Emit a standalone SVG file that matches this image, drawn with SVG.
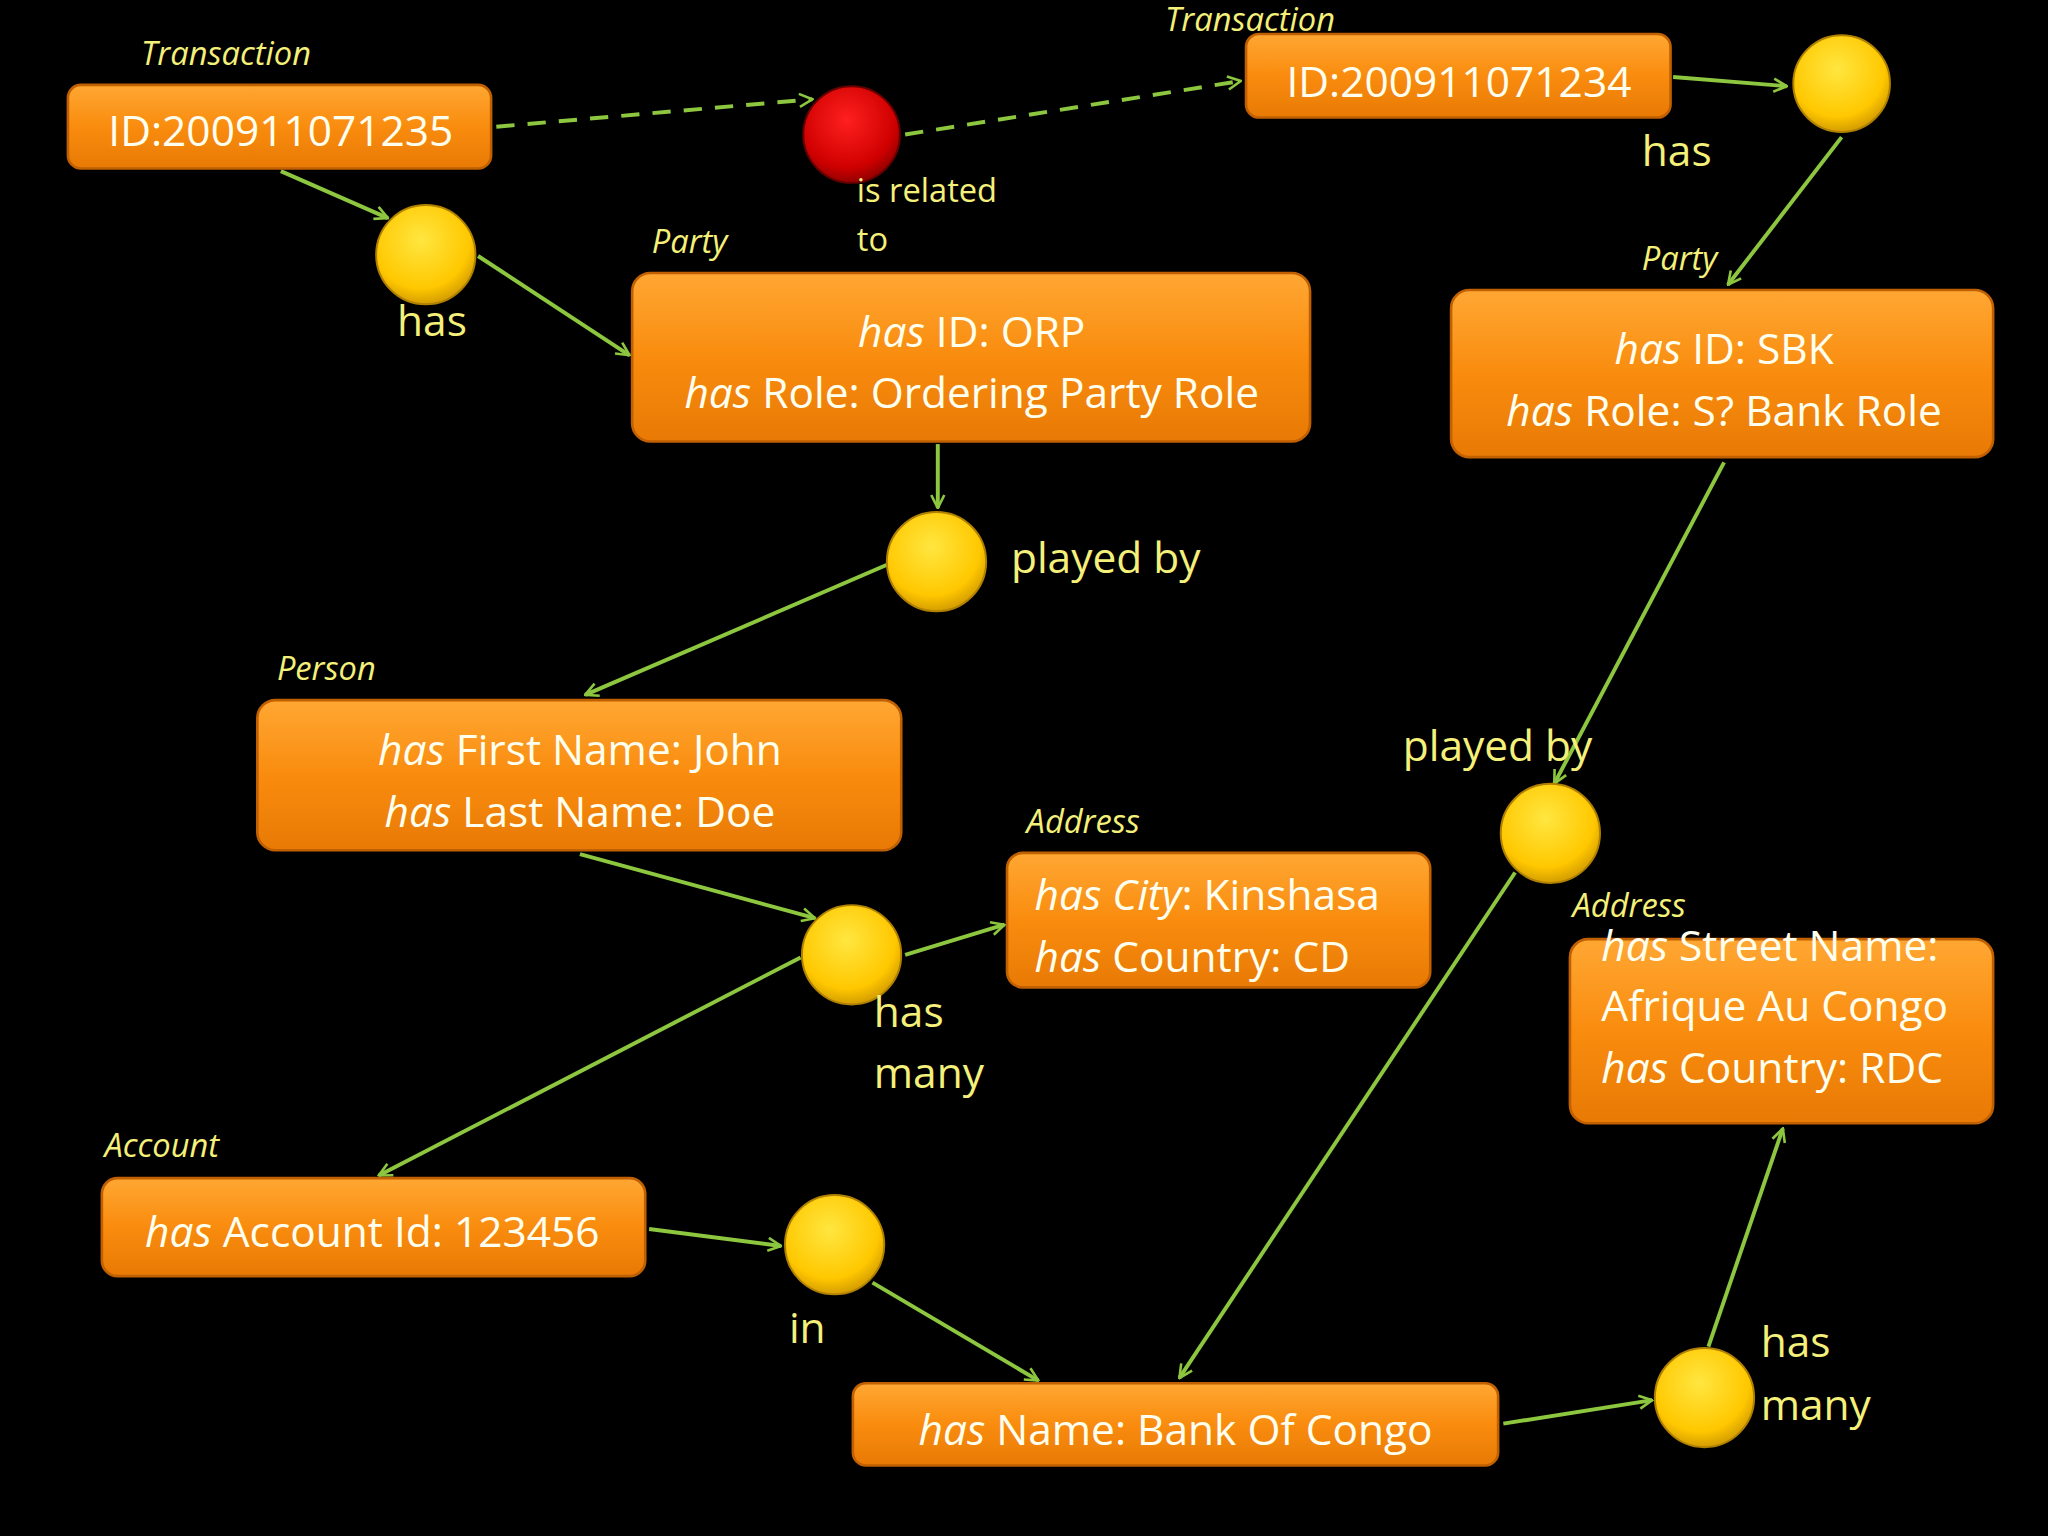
<svg xmlns="http://www.w3.org/2000/svg" width="2048" height="1536" viewBox="0 0 2048 1536">
<defs>
<linearGradient id="og" x1="0" y1="0" x2="0" y2="1"><stop offset="0" stop-color="#FFA733"/><stop offset="0.5" stop-color="#F98C0E"/><stop offset="1" stop-color="#E87A05"/></linearGradient>
<radialGradient id="yg" cx="0.45" cy="0.35" r="0.7"><stop offset="0" stop-color="#FFE640"/><stop offset="0.7" stop-color="#FFC800"/><stop offset="1" stop-color="#C89000"/></radialGradient>
<radialGradient id="rg" cx="0.45" cy="0.35" r="0.7"><stop offset="0" stop-color="#FF2020"/><stop offset="0.7" stop-color="#D00000"/><stop offset="1" stop-color="#800000"/></radialGradient>
<marker id="ar" viewBox="0 0 12 12" refX="11" refY="6" markerWidth="12" markerHeight="12" markerUnits="userSpaceOnUse" orient="auto"><path d="M1,1 L11,6 L1,11" fill="none" stroke="#8DC63F" stroke-width="2"/></marker>
<style>
.box{fill:url(#og);stroke:#C06000;stroke-width:2}
.yc{fill:url(#yg);stroke:#B08000;stroke-width:1.5}
.t{font-family:"Open Sans","Liberation Sans",sans-serif;font-size:32.5px;fill:#FFFFF0}
.c{text-anchor:middle}
.lbl{font-family:"Open Sans","Liberation Sans",sans-serif;font-size:25px;fill:#F4F07A;font-style:italic}
.rl{font-family:"Open Sans","Liberation Sans",sans-serif;font-size:32.5px;fill:#F4F07A}
.sm{font-size:25px}
.ln{stroke:#8DC63F;stroke-width:3;fill:none;marker-end:url(#ar)}
.d{stroke-dasharray:14,10}
</style>
</defs>
<rect width="2048" height="1536" fill="#000"/>
<g transform="scale(1.30612)">
<g id="connectors">
<line class="ln d" x1="380" y1="97" x2="622" y2="76"/>
<line class="ln d" x1="693" y1="103" x2="950" y2="62"/>
<line class="ln" x1="1281" y1="59" x2="1368" y2="66"/>
<line class="ln" x1="215" y1="131" x2="297" y2="167"/>
<line class="ln" x1="366" y1="196" x2="482" y2="272"/>
<line class="ln" x1="1410" y1="105" x2="1323" y2="218"/>
<line class="ln" x1="718" y1="340" x2="718" y2="389"/>
<line class="ln" x1="680" y1="432" x2="448" y2="532"/>
<line class="ln" x1="444" y1="654" x2="624" y2="703"/>
<line class="ln" x1="693" y1="731" x2="769" y2="708"/>
<line class="ln" x1="613" y1="733" x2="290" y2="900"/>
<line class="ln" x1="1320" y1="354" x2="1190" y2="600"/>
<line class="ln" x1="497" y1="941" x2="598" y2="954"/>
<line class="ln" x1="668" y1="982" x2="795" y2="1057"/>
<line class="ln" x1="1160" y1="668" x2="903" y2="1055"/>
<line class="ln" x1="1151" y1="1090" x2="1265" y2="1072"/>
<line class="ln" x1="1308" y1="1031" x2="1365" y2="864"/>
</g>
<g id="tx1"><text class="lbl" x="108" y="50">Transaction</text><rect class="box" x="52" y="65" width="324" height="64" rx="10"/><text class="t c" x="215" y="112">ID:200911071235</text></g>
<g id="tx2"><text class="lbl" x="892" y="24">Transaction</text><rect class="box" x="954" y="26" width="325" height="64" rx="10"/><text class="t c" x="1117" y="74">ID:200911071234</text></g>
<g id="rel"><circle cx="652" cy="103" r="37" fill="url(#rg)" stroke="#600" stroke-width="1.5"/><text class="rl sm" x="656" y="155">is related</text><text class="rl sm" x="656" y="192">to</text></g>
<g id="hasA"><circle class="yc" cx="326" cy="195" r="38"/><text class="rl" x="304" y="257">has</text></g>
<g id="hasB"><circle class="yc" cx="1410" cy="64" r="37"/><text class="rl" x="1257" y="127">has</text></g>
<g id="party1"><text class="lbl" x="499" y="194">Party</text><rect class="box" x="484" y="209" width="519" height="129" rx="14"/><text class="t c" x="744" y="266"><tspan font-style="italic">has</tspan> ID: ORP</text><text class="t c" x="744" y="312"><tspan font-style="italic">has</tspan> Role: Ordering Party Role</text></g>
<g id="party2"><text class="lbl" x="1257" y="207">Party</text><rect class="box" x="1111" y="222" width="415" height="128" rx="14"/><text class="t c" x="1320" y="279"><tspan font-style="italic">has</tspan> ID: SBK</text><text class="t c" x="1320" y="326"><tspan font-style="italic">has</tspan> Role: S? Bank Role</text></g>
<g id="playedC"><circle class="yc" cx="717" cy="430" r="38"/><text class="rl" x="774" y="439">played by</text></g>
<g id="person"><text class="lbl" x="212" y="521">Person</text><rect class="box" x="197" y="536" width="493" height="115" rx="14"/><text class="t c" x="444" y="586"><tspan font-style="italic">has</tspan> First Name: John</text><text class="t c" x="444" y="633"><tspan font-style="italic">has</tspan> Last Name: Doe</text></g>
<g id="hasmanyD"><circle class="yc" cx="652" cy="731" r="38"/><text class="rl" x="669" y="786">has</text><text class="rl" x="669" y="833">many</text></g>
<g id="addr1"><text class="lbl" x="786" y="638">Address</text><rect class="box" x="771" y="653" width="324" height="103" rx="12"/><text class="t" x="792" y="697"><tspan font-style="italic">has City</tspan>: Kinshasa</text><text class="t" x="792" y="744"><tspan font-style="italic">has</tspan> Country: CD</text></g>
<g id="playedE"><circle class="yc" cx="1187" cy="638" r="38"/><text class="rl" x="1074" y="583">played by</text></g>
<g id="addr2"><rect class="box" x="1202" y="719" width="324" height="141" rx="14"/><text class="lbl" x="1204" y="702">Address</text><text class="t" x="1226" y="736"><tspan font-style="italic">has</tspan> Street Name:</text><text class="t" x="1226" y="782">Afrique Au Congo</text><text class="t" x="1226" y="829"><tspan font-style="italic">has</tspan> Country: RDC</text></g>
<g id="account"><text class="lbl" x="80" y="886">Account</text><rect class="box" x="78" y="902" width="416" height="75" rx="12"/><text class="t c" x="285" y="955"><tspan font-style="italic">has</tspan> Account Id: 123456</text></g>
<g id="inF"><circle class="yc" cx="639" cy="953" r="38"/><text class="rl" x="604" y="1028">in</text></g>
<g id="bank"><rect class="box" x="653" y="1059" width="494" height="63" rx="10"/><text class="t c" x="900" y="1106"><tspan font-style="italic">has</tspan> Name: Bank Of Congo</text></g>
<g id="hasmanyG"><circle class="yc" cx="1305" cy="1070" r="38"/><text class="rl" x="1348" y="1039">has</text><text class="rl" x="1348" y="1087">many</text></g>
</g>
</svg>
